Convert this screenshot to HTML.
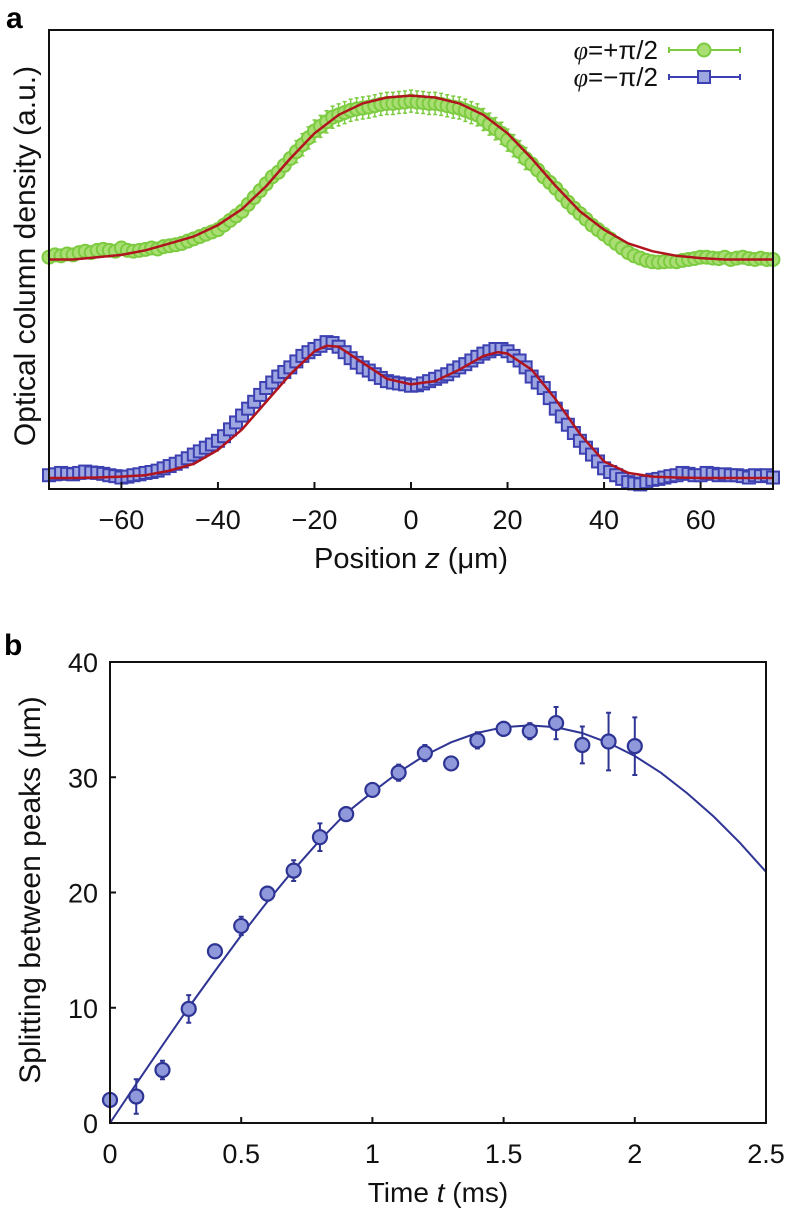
<!DOCTYPE html>
<html><head><meta charset="utf-8"><style>
html,body{margin:0;padding:0;background:#fff;}
svg{display:block;font-family:"Liberation Sans",sans-serif;}
</style></head><body>
<svg id="fig" width="788" height="1211" viewBox="0 0 788 1211" xmlns="http://www.w3.org/2000/svg">
<text x="6" y="28" font-size="30" font-weight="bold">a</text>
<text x="4" y="655" font-size="30" font-weight="bold">b</text>
<g id="pa"></g>
<g id="pb"></g>
</svg>
<script>
// ---------- Panel a data ----------
const zStart = -75, zStep = 1.25;
const greenVals = [.505,.51,.508,.512,.51,.515,.518,.515,.52,.522,.52,.518,.525,
.52,.518,.52,.522,.525,.523,.528,.53,.532,.535,.54,.545,
.55,.555,.56,.565,.575,.585,.595,.605,.62,.635,.65,.665,
.68,.69,.705,.72,.735,.75,.765,.78,.79,.80,.81,.815,
.82,.825,.828,.83,.832,.835,.838,.84,.84,.842,.843,.845,
.843,.842,.84,.84,.838,.835,.832,.83,.825,.82,.815,.805,
.795,.785,.775,.76,.748,.735,.72,.708,.695,.68,.668,.655,
.64,.625,.612,.60,.588,.575,.565,.555,.545,.535,.525,.515,
.508,.503,.498,.495,.494,.495,.496,.495,.498,.50,.502,.505,
.505,.503,.502,.505,.50,.503,.505,.502,.50,.503,.50,.50];
const blueVals = [.03,.032,.035,.033,.032,.035,.038,.036,.035,.033,.03,.028,.025,
.027,.03,.032,.035,.037,.04,.045,.05,.055,.06,.067,.075,
.082,.09,.097,.105,.115,.13,.145,.16,.175,.19,.205,.22,
.232,.245,.255,.265,.278,.29,.298,.305,.312,.32,.318,.31,
.298,.285,.275,.265,.258,.25,.242,.235,.232,.23,.228,.225,
.226,.23,.235,.24,.245,.25,.258,.265,.272,.28,.288,.295,
.30,.305,.305,.30,.29,.28,.265,.245,.232,.22,.198,.175,
.158,.14,.122,.105,.09,.075,.06,.045,.037,.03,.022,.015,
.012,.01,.015,.02,.022,.025,.028,.03,.035,.033,.03,.03,
.035,.033,.03,.032,.03,.03,.028,.025,.03,.028,.03,.025];
const greenErr = 0.012;
const blueErr = 0.008;
const greenFitZ = [-75,-70,-65,-60,-55,-50,-45,-40,-35,-30,-25,-20,-15,-10,-5,0,5,10,15,20,25,30,35,40,45,50,55,60,65,70,75];
const greenFitVals = [.50,.50,.505,.51,.52,.535,.55,.575,.61,.66,.72,.775,.815,.84,.853,.857,.853,.84,.815,.775,.72,.66,.605,.565,.535,.518,.508,.503,.50,.50,.50];
const blueFitZ = [-75,-70,-65,-60,-55,-50,-45,-40,-35,-30,-25,-20,-17.5,-15,-10,-5,0,5,10,15,18,20,25,30,35,40,45,50,55,60,65,70,75];
const blueFitVals = [.024,.024,.025,.027,.03,.04,.055,.085,.13,.19,.25,.30,.312,.31,.275,.24,.228,.235,.26,.29,.298,.295,.26,.195,.12,.06,.035,.027,.025,.024,.024,.024,.024];
const aTicks = [-60,-40,-20,0,20,40,60];
const aTickLabels = ["\u221260","\u221240","\u221220","0","20","40","60"];

// ---------- Panel b data ----------
const tData = [0,0.1,0.2,0.3,0.4,0.5,0.6,0.7,0.8,0.9,1.0,1.1,1.2,1.3,1.4,1.5,1.6,1.7,1.8,1.9,2.0];
const splitVals = [2.0,2.3,4.6,9.9,14.9,17.1,19.9,21.9,24.8,26.8,28.9,30.4,32.1,31.2,33.2,34.2,34.0,34.7,32.8,33.1,32.7];
const splitErr = [0.3,1.5,0.8,1.2,0.3,0.8,0.6,0.9,1.2,0.6,0.5,0.7,0.7,0.4,0.7,0.6,0.7,1.4,1.6,2.5,2.5];
const fitT = [0,0.1,0.2,0.3,0.4,0.5,0.6,0.7,0.8,0.9,1.0,1.1,1.2,1.3,1.4,1.5,1.6,1.7,1.8,1.9,2.0,2.1,2.2,2.3,2.4,2.5];
const fitVals = [0,3.39,6.74,10.02,13.19,16.28,19.21,21.97,24.54,26.89,28.71,30.43,31.90,33.03,33.85,34.34,34.5,34.33,33.83,32.98,31.84,30.39,28.60,26.60,24.32,21.80];
const bxTicks = [0,0.5,1,1.5,2,2.5];
const bxTickLabels = ["0","0.5","1","1.5","2","2.5"];
const byTicks = [0,10,20,30,40];
const byTickLabels = ["0","10","20","30","40"];

const NS = "http://www.w3.org/2000/svg";
function mk(parent, tag, attrs){const e=document.createElementNS(NS,tag);for(const k in attrs)e.setAttribute(k,attrs[k]);parent.appendChild(e);return e;}
function pathOf(xs, ys, fx, fy){return xs.map((x,i)=>(i?'L':'M')+fx(x).toFixed(1)+','+fy(ys[i]).toFixed(1)).join(' ');}

// ---------- Panel a ----------
const A = {l:49,r:773,t:30,b:489};
const ax = z => A.l + (z+75)/150*(A.r-A.l);
const ay = v => A.b - v*(A.b-A.t);
const pa = document.getElementById('pa');

const gGreen = mk(pa,'g',{});


greenVals.forEach((v,i)=>{
  const z = zStart + i*zStep;
  const x=ax(z), y=ay(v);
  const e = (Math.abs(z)<25)? greenErr*2 : greenErr;
  const y1=ay(v+e), y2=ay(v-e);
  const eb = mk(gGreen,'path',{d:`M${x},${y1}V${y2}M${x-2},${y1}H${x+2}M${x-2},${y2}H${x+2}`,stroke:'#7ccb40','stroke-width':1.5,fill:'none'});
  
  
  const c = mk(gGreen,'circle',{cx:x,cy:y,r:6.5,fill:'#a8de72',stroke:'#7ccb40','stroke-width':2});
  
  
});
const gFit = mk(pa,'path',{d:pathOf(greenFitZ,greenFitVals,ax,ay),fill:'none',stroke:'#b0141e','stroke-width':2.5});



const gBlue = mk(pa,'g',{});


blueVals.forEach((v,i)=>{
  const z = zStart + i*zStep;
  const x=ax(z), y=ay(v);
  const eb = mk(gBlue,'line',{x1:x,x2:x,y1:ay(v+blueErr),y2:ay(v-blueErr),stroke:'#3a3eaa','stroke-width':1.5});
  
  
  const s = mk(gBlue,'rect',{x:x-6,y:y-6,width:12,height:12,fill:'#9ea6e2',stroke:'#3c40b0','stroke-width':2});
  
  
});
const bFit = mk(pa,'path',{d:pathOf(blueFitZ,blueFitVals,ax,ay),fill:'none',stroke:'#b0141e','stroke-width':2.5});



const fa = mk(pa,'rect',{x:A.l,y:A.t,width:A.r-A.l,height:A.b-A.t,fill:'none',stroke:'#111','stroke-width':2});


aTicks.forEach((t,i)=>{
  const x=ax(t);
  const tk = mk(pa,'line',{x1:x,x2:x,y1:A.b,y2:A.b-7,stroke:'#111','stroke-width':2});
  
  
  const lb = mk(pa,'text',{x:x,y:A.b+40,'font-size':27,'text-anchor':'middle',fill:'#111'});
  lb.textContent=aTickLabels[i];
  
  
});
const axt = mk(pa,'text',{x:411,y:568,'font-size':29,'text-anchor':'middle',fill:'#111'});
axt.innerHTML='Position <tspan font-style="italic">z</tspan> (\u03bcm)';


const ayt = mk(pa,'text',{x:0,y:0,'font-size':30,'text-anchor':'middle',fill:'#111',transform:'translate(35,256) rotate(-90)'});
ayt.textContent='Optical column density (a.u.)';



const lg = mk(pa,'g',{});


[['+','#7ccb40','#a8de72','circle',50],['\u2212','#3c40b0','#9ea6e2','rect',77]].forEach(d=>{
  const t = mk(lg,'text',{x:658,y:d[4]+9,'font-size':26,'text-anchor':'end',fill:'#111'});
  t.innerHTML='<tspan font-style="italic" font-family="Liberation Serif">\u03c6</tspan>='+d[0]+'\u03c0/2';
  
  
  const ln = mk(lg,'line',{x1:669,x2:740,y1:d[4],y2:d[4],stroke:d[1],'stroke-width':2});
  
  
  mk(lg,'line',{x1:669,x2:669,y1:d[4]-3,y2:d[4]+3,stroke:d[1],'stroke-width':2});
  mk(lg,'line',{x1:740,x2:740,y1:d[4]-3,y2:d[4]+3,stroke:d[1],'stroke-width':2});
  let m;
  if(d[3]==='circle') m=mk(lg,'circle',{cx:704,cy:d[4],r:6.5,fill:d[2],stroke:d[1],'stroke-width':2});
  else m=mk(lg,'rect',{x:698,y:d[4]-6,width:12,height:12,fill:d[2],stroke:d[1],'stroke-width':2});
  
  
});

// ---------- Panel b ----------
const B = {l:110,r:766,t:662,b:1123};
const bx = t => B.l + t/2.5*(B.r-B.l);
const by = v => B.b - v/40*(B.b-B.t);
const pb = document.getElementById('pb');
const fitLine = mk(pb,'path',{d:pathOf(fitT,fitVals,bx,by),fill:'none',stroke:'#2e3494','stroke-width':2});


tData.forEach((t,i)=>{
  const x=bx(t), y1=by(splitVals[i]+splitErr[i]), y2=by(splitVals[i]-splitErr[i]);
  const eb = mk(pb,'path',{d:`M${x},${y1}V${y2}M${x-2.5},${y1}H${x+2.5}M${x-2.5},${y2}H${x+2.5}`,stroke:'#2e3494','stroke-width':2,fill:'none'});
  
  
  const c = mk(pb,'circle',{cx:x,cy:by(splitVals[i]),r:7,fill:'#8e98da',stroke:'#2e3494','stroke-width':2.2});
  
  
});
const fb = mk(pb,'rect',{x:B.l,y:B.t,width:B.r-B.l,height:B.b-B.t,fill:'none',stroke:'#111','stroke-width':2});


bxTicks.forEach((t,i)=>{
  const x=bx(t);
  const tk = mk(pb,'line',{x1:x,x2:x,y1:B.b,y2:B.b-6,stroke:'#111','stroke-width':2});
  
  
  const lb = mk(pb,'text',{x:x,y:B.b+40,'font-size':27,'text-anchor':'middle',fill:'#111'});
  lb.textContent=bxTickLabels[i];
  
  
});
byTicks.forEach((v,i)=>{
  const y=by(v);
  const tk = mk(pb,'line',{x1:B.l,x2:B.l+6,y1:y,y2:y,stroke:'#111','stroke-width':2});
  
  
  const lb = mk(pb,'text',{x:B.l-12,y:y+10,'font-size':27,'text-anchor':'end',fill:'#111'});
  lb.textContent=byTickLabels[i];
  
  
});
const bxt = mk(pb,'text',{x:438,y:1202,'font-size':28,'text-anchor':'middle',fill:'#111'});
bxt.innerHTML='Time <tspan font-style="italic">t</tspan> (ms)';


const byt = mk(pb,'text',{x:0,y:0,'font-size':30,'text-anchor':'middle',fill:'#111',transform:'translate(40,890) rotate(-90)'});
byt.textContent='Splitting between peaks (\u03bcm)';


</script>
</body></html>
